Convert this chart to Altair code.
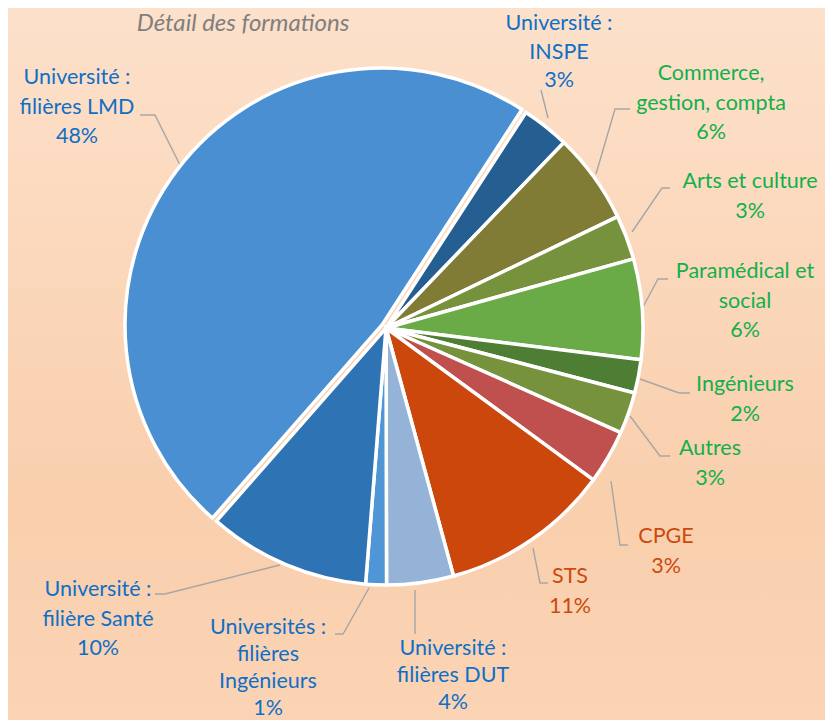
import math
import altair as alt
import pandas as pd

# ---- data ----
categories = [
    "Université : INSPE", "Commerce, gestion, compta", "Arts et culture",
    "Paramédical et social", "Ingénieurs", "Autres", "CPGE", "STS",
    "Université : filières DUT", "Universités : filières Ingénieurs",
    "Université : filière Santé", "Université : filières LMD",
]
values = [3.0, 5.7, 2.8, 6.3, 2.1, 2.6, 3.4, 10.7, 4.2, 1.3, 10.2, 47.7]
pct_labels = ["3%", "6%", "3%", "6%", "2%", "3%", "3%", "11%", "4%", "1%", "10%", "48%"]
label_lines = [
    "Université :\nINSPE", "Commerce,\ngestion, compta", "Arts et culture",
    "Paramédical et\nsocial", "Ingénieurs", "Autres", "CPGE", "STS",
    "Université :\nfilières DUT", "Universités :\nfilières\nIngénieurs",
    "Université :\nfilière Santé", "Université :\nfilières LMD",
]
slice_colors = [
    "#255e91", "#807b35", "#77923d", "#6aab47", "#4e7d34", "#77923d",
    "#c0504d", "#cb470b", "#95b3d7", "#5096d6", "#2e73b3", "#4a8fd2",
]
text_colors = [
    "#0f6fc6", "#12b04c", "#12b04c", "#12b04c", "#12b04c", "#12b04c",
    "#cc4a0c", "#cc4a0c", "#0f6fc6", "#0f6fc6", "#0f6fc6", "#0f6fc6",
]

# ---- layout (chart pixel coordinates, first text line centre) ----
W, H = 817, 712
CX, CY, R = 378, 320, 257
START = math.radians(33)
label_pos = [
    (551, 16), (703, 66), (742, 174), (737, 264), (737, 377), (702, 441),
    (658, 529), (562, 569), (445, 641), (260, 620), (90, 582), (69, 70),
]
inspe_row = 0
bottom_rows = {8, 9}  # labels set with tighter leading to stay inside the frame
leaders = [
    [(533, 82), (540, 110)],
    [(622, 101), (607, 101), (588, 166)],
    [(662, 180), (654, 180), (624, 224)],
    [(660, 271), (650, 271), (635, 299)],
    [(682, 385), (671, 385), (632, 371)],
    [(662, 448), (652, 448), (622, 408)],
    [(620, 537), (612, 537), (603, 473)],
    [(540, 575), (532, 575), (525, 540)],
    [(407, 626), (407, 582)],
    [(327, 626), (335, 626), (361, 580)],
    [(147, 586), (157, 586), (272, 557)],
    [(132, 107), (147, 107), (172, 157)],
]

df = pd.DataFrame({
    "cat": categories,
    "value": values,
    "idx": list(range(len(categories))),
})

groups = []
for i in range(len(categories)):
    if i in bottom_rows:
        groups.append("bottom")
    elif i == inspe_row:
        groups.append("top")
    else:
        groups.append("main")

lab = pd.DataFrame({
    "text": [l + "\n" + p for l, p in zip(label_lines, pct_labels)],
    "lx": [p[0] for p in label_pos],
    "ly": [p[1] for p in label_pos],
    "tc": text_colors,
    "grp": groups,
})

rows = []
for g, pts in enumerate(leaders):
    for k, (x, y) in enumerate(pts):
        rows.append({"g": g, "k": k, "x": x, "y": y})
lead = pd.DataFrame(rows)

# ---- layers ----
bg = alt.Chart(alt.Data(values=[{}])).mark_rect(
    fill=alt.LinearGradient(
        gradient="linear", x1=0, y1=0, x2=0, y2=1,
        stops=[
            alt.GradientStop(color="#fde1cb", offset=0),
            alt.GradientStop(color="#f9cfad", offset=0.7),
            alt.GradientStop(color="#fbd4b5", offset=1),
        ],
    )
).encode(x=alt.value(0), x2=alt.value(W), y=alt.value(-10), y2=alt.value(H))

theta = alt.Theta("value:Q", stack=True,
                  scale=alt.Scale(range=[START, START + 2 * math.pi]))
color = alt.Color("cat:N", scale=alt.Scale(domain=categories, range=slice_colors),
                  legend=None)

pie = alt.Chart(df).mark_arc(outerRadius=R, stroke="white", strokeWidth=3.5).encode(
    theta=theta, color=color, order=alt.Order("idx:Q"),
    x=alt.value(CX), y=alt.value(CY),
    opacity=alt.condition(alt.datum.idx == 11, alt.value(0), alt.value(1)),
)
pie_lmd = alt.Chart(df).mark_arc(outerRadius=R, stroke="white", strokeWidth=3.5).encode(
    theta=theta, color=color, order=alt.Order("idx:Q"),
    x=alt.value(CX - 4), y=alt.value(CY - 3),
    opacity=alt.condition(alt.datum.idx == 11, alt.value(1), alt.value(0)),
)

lines = alt.Chart(lead).mark_line(color="#a6a6a6", strokeWidth=1.4).encode(
    x=alt.X("x:Q", scale=None), y=alt.Y("y:Q", scale=None),
    detail="g:N", order="k:Q",
)

def label_layer(grp, lh):
    return alt.Chart(lab).transform_filter(
        alt.datum.grp == grp
    ).mark_text(
        font="Lato", fontSize=21.5, lineBreak="\n", lineHeight=lh,
        align="center", baseline="middle",
    ).encode(
        x=alt.X("lx:Q", scale=None), y=alt.Y("ly:Q", scale=None),
        text="text:N", color=alt.Color("tc:N", scale=None),
    )

labels_main = label_layer("main", 29.5)
labels_top = label_layer("top", 28.5)
labels_bottom = label_layer("bottom", 27)

title = alt.Chart(alt.Data(values=[{}])).mark_text(
    text="Détail des formations", font="Lato", fontSize=24, fontStyle="italic",
    color="#7f7f7f", align="center", baseline="alphabetic",
).encode(x=alt.value(235), y=alt.value(23))

chart = alt.layer(bg, lines, pie, pie_lmd, labels_main, labels_top, labels_bottom,
                  title).properties(
    width=W, height=H, autosize=alt.AutoSizeParams(type="none"), padding=0,
    background="#fde1cb",
).configure_view(strokeWidth=0)

chart.save("out.html", embed_options={"renderer": "svg", "actions": False})
